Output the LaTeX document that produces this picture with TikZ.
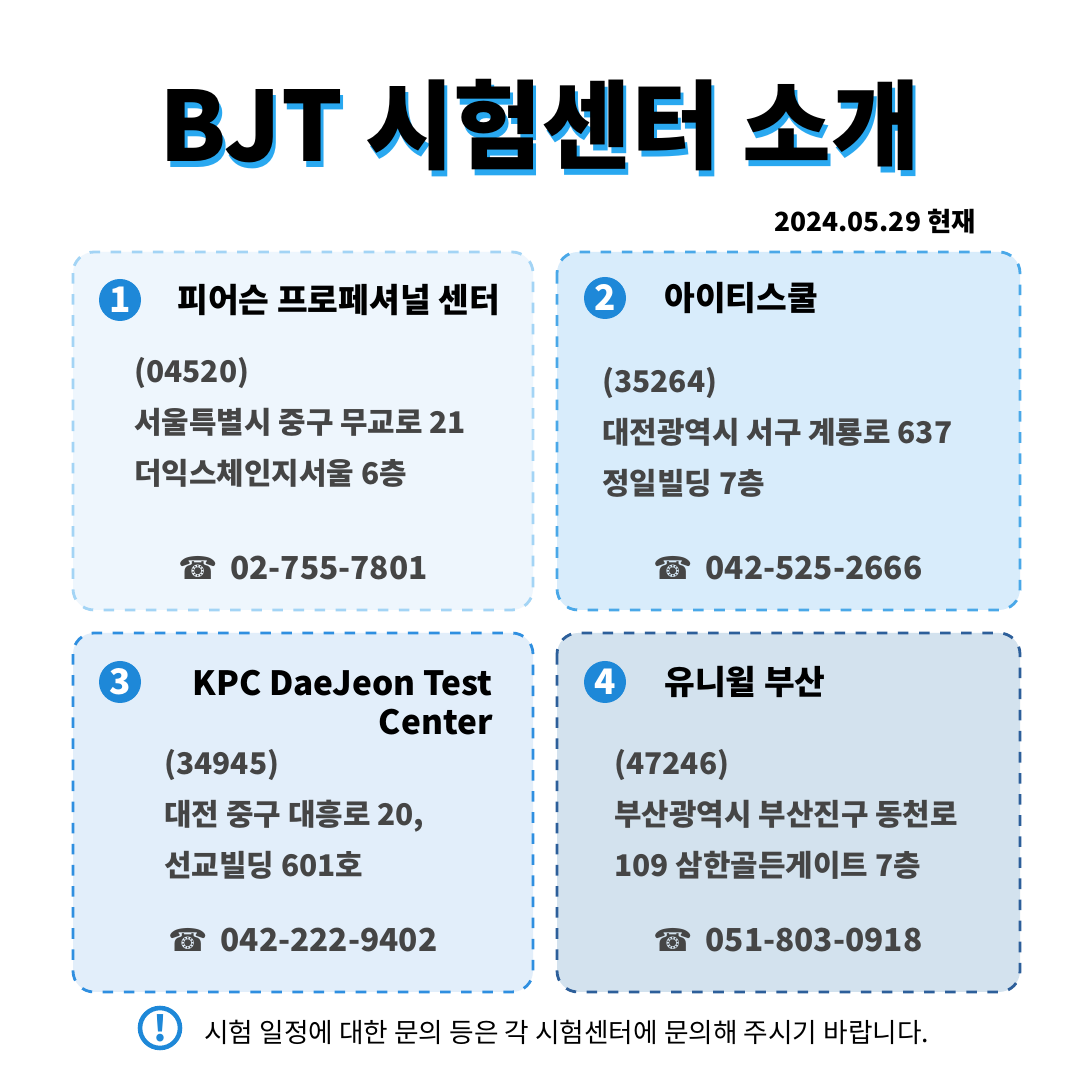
\documentclass[tikz,border=0pt]{standalone}
\usepackage{fontspec}
\setmainfont{Noto Sans CJK KR}
\newfontfamily\symfont{DejaVu Sans}
\usetikzlibrary{positioning}
\definecolor{numblue}{HTML}{1E88D8}
\definecolor{txtgray}{HTML}{454545}
\definecolor{fillA}{HTML}{EEF6FD}
\definecolor{lineA}{HTML}{A3D4F5}
\definecolor{fillB}{HTML}{D8ECFB}
\definecolor{lineB}{HTML}{4AA8E8}
\definecolor{fillC}{HTML}{E2EEFA}
\definecolor{lineC}{HTML}{2F8FE0}
\definecolor{fillD}{HTML}{D3E2EE}
\definecolor{lineD}{HTML}{2D5F9A}
\definecolor{shadowblue}{HTML}{29A8F0}
\tikzset{%
  card/.style={rounded corners=6pt, dashed, line width=0.8pt},
  numdot/.style={circle, fill=numblue, text=white, minimum size=0.42cm,
    inner sep=0pt, font=\fontsize{10}{10}\selectfont\bfseries},
  cardtitle/.style={anchor=west, font=\fontsize{9.5}{11}\selectfont\bfseries, text=black},
  addr/.style={anchor=north west, align=left, text=txtgray,
    font=\fontsize{8.5}{14.5}\selectfont\bfseries},
  phone/.style={text=txtgray, font=\fontsize{9}{10}\selectfont\bfseries},
  bigtitle/.style={font=\fontsize{27.5}{28}\selectfont\bfseries},
}
\begin{document}
\begin{tikzpicture}[x=1cm,y=1cm]
  \useasboundingbox[fill=white] (0,0) rectangle (10.8,10.8);
  % title with blue shadow
  \node[bigtitle, text=shadowblue] (shadow) at (5.43,9.49) {BJT 시험센터 소개};
  \node[bigtitle, text=black] (title) at (5.40,9.55) {BJT 시험센터 소개};
  \node[anchor=east, font=\fontsize{7.5}{8}\selectfont\bfseries] (date) at (9.88,8.58) {2024.05.29 현재};
  % cards
  \draw[card, fill=fillA, draw=lineA] (0.73,8.28) rectangle (5.33,4.70);
  \draw[card, fill=fillB, draw=lineB] (5.57,8.28) rectangle (10.20,4.70);
  \draw[card, fill=fillC, draw=lineC] (0.73,4.47) rectangle (5.33,0.88);
  \draw[card, fill=fillD, draw=lineD] (5.57,4.47) rectangle (10.20,0.88);
  % card 1
  \node[numdot] (n1) at (1.20,7.80) {1};
  \node[cardtitle] (t1) at (1.65,7.80) {피어슨 프로페셔널 센터};
  \node[addr] (a1) at (1.22,7.35) {(04520)\\서울특별시 중구 무교로 21\\더익스체인지서울 6층};
  \node[phone] (p1) at (3.03,5.12) {{\symfont ☎}\, 02-755-7801};
  % card 2
  \node[numdot] (n2) at (6.05,7.82) {2};
  \node[cardtitle] (t2) at (6.52,7.82) {아이티스쿨};
  \node[addr] (a2) at (5.90,7.25) {(35264)\\대전광역시 서구 계룡로 637\\정일빌딩 7층};
  \node[phone] (p2) at (7.88,5.12) {{\symfont ☎}\, 042-525-2666};
  % card 3
  \node[numdot] (n3) at (1.20,3.98) {3};
  \node[cardtitle, anchor=north east, align=right] (t3) at (5.05,4.22) {KPC DaeJeon Test\\Center};
  \node[addr] (a3) at (1.52,3.43) {(34945)\\대전 중구 대흥로 20,\\선교빌딩 601호};
  \node[phone] (p3) at (3.03,1.40) {{\symfont ☎}\, 042-222-9402};
  % card 4
  \node[numdot] (n4) at (6.05,3.98) {4};
  \node[cardtitle] (t4) at (6.52,3.98) {유니윌 부산};
  \node[addr] (a4) at (6.02,3.43) {(47246)\\부산광역시 부산진구 동천로\\109 삼한골든게이트 7층};
  \node[phone] (p4) at (7.88,1.40) {{\symfont ☎}\, 051-803-0918};
  % note
  \node[circle, draw=numblue, line width=1.3pt, minimum size=0.40cm, inner sep=0pt,
    text=numblue, font=\fontsize{10}{10}\selectfont\bfseries] (info) at (1.60,0.52) {!};
  \node[anchor=west, font=\fontsize{7.6}{9}\selectfont, text=black] (note) at (1.92,0.48)
    {시험 일정에 대한 문의 등은 각 시험센터에 문의해 주시기 바랍니다.};
\end{tikzpicture}
\end{document}
